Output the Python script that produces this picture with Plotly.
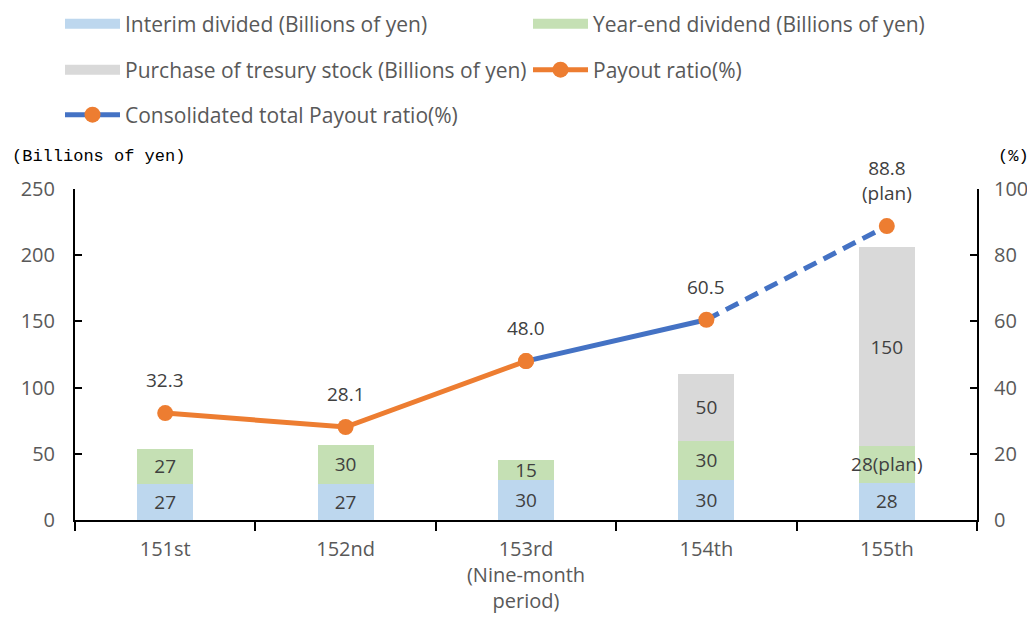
import plotly.graph_objects as go

categories = ["151st", "152nd", "153rd<br>(Nine-month<br>period)", "154th", "155th"]
interim = [27, 27, 30, 30, 28]
interim_text = ["27", "27", "30", "30", "28"]
year_end = [27, 30, 15, 30, 28]
year_end_text = ["27", "30", "15", "30", "28(plan)"]
treasury = [0, 0, 0, 50, 150]
treasury_text = ["", "", "", "50", "150"]

payout_cats = categories[:3]
payout = [32.3, 28.1, 48.0]
consol_cats = categories[2:4]
consol = [48.0, 60.5]
consol_plan_cats = categories[3:5]
consol_plan = [60.5, 88.8]

label_cats = categories
label_vals = [32.3, 28.1, 48.0, 60.5, 88.8]
label_text = ["32.3", "28.1", "48.0", "60.5", "88.8<br>(plan)"]

GRAY = "#595959"
LBL = "#404040"
FONT = "Open Sans, Liberation Sans, Arial, sans-serif"
C_INT, C_YE, C_TR = "#BDD7EE", "#C5E0B4", "#D9D9D9"

W, H = 1035, 621
OFF = 8  # page body margin
# target plot area in screen pixels: x 75..977, y 189..520
L, T = 75 - OFF, 189 - OFF
R, B = W - (977 - OFF), H - (520 - OFF)
pw, ph = W - L - R, H - T - B

fig = go.Figure()
bar_specs = [
    (interim, interim_text, "Interim divided (Billions of yen)", C_INT, "legend"),
    (year_end, year_end_text, "Year-end dividend (Billions of yen)", C_YE, "legend2"),
    (treasury, treasury_text, "Purchase of tresury stock (Billions of yen)", C_TR, "legend3"),
]
for vals, txt, name, col, lg in bar_specs:
    fig.add_trace(go.Bar(x=categories, y=vals, name=name, legendgroup=name, showlegend=False,
                         marker=dict(color=col, line=dict(width=0)),
                         text=txt, textposition="inside", insidetextanchor="middle", textangle=0,
                         textfont=dict(size=19, color=LBL, family=FONT)))
    fig.add_trace(go.Scatter(x=[None], y=[None], name=name, legendgroup=name, mode="lines",
                             line=dict(color=col, width=17), legend=lg))

fig.add_trace(go.Scatter(x=payout_cats, y=payout, name="Payout ratio(%)", yaxis="y2",
                         mode="lines+markers", line=dict(color="#ED7D31", width=5),
                         marker=dict(color="#ED7D31", size=16), legend="legend4"))
fig.add_trace(go.Scatter(x=consol_plan_cats, y=consol_plan, name="Consolidated total Payout ratio(%)",
                         yaxis="y2", mode="lines", showlegend=False,
                         line=dict(color="#4472C4", width=5, dash="14px,8px")))
fig.add_trace(go.Scatter(x=consol_cats, y=consol, name="Consolidated total Payout ratio(%)", yaxis="y2",
                         mode="lines+markers", line=dict(color="#4472C4", width=5),
                         marker=dict(color="#ED7D31", size=16), legend="legend5"))
fig.add_trace(go.Scatter(x=consol_plan_cats[1:], y=consol_plan[1:], yaxis="y2", mode="markers",
                         showlegend=False, marker=dict(color="#ED7D31", size=16)))

annotations = []
for c, v, t in zip(label_cats, label_vals, label_text):
    annotations.append(dict(x=c, y=v, xref="x", yref="y2", text=t, showarrow=False,
                            yanchor="bottom", yshift=18,
                            font=dict(size=19, color=LBL, family=FONT)))


def px_x(sx):
    return (sx - OFF - L) / pw


def px_y(sy):
    return (H - B - (sy - OFF)) / ph


annotations.append(dict(x=px_x(10), y=px_y(157), xref="paper", yref="paper",
                        text="(Billions of yen)", showarrow=False, xanchor="left", yanchor="middle",
                        font=dict(size=17, color="#000000", family="Liberation Mono, monospace")))
annotations.append(dict(x=px_x(1031), y=px_y(157), xref="paper", yref="paper",
                        text="(%)", showarrow=False, xanchor="right", yanchor="middle",
                        font=dict(size=17, color="#000000", family="Liberation Mono, monospace")))


def leg(sx, sy):
    return dict(x=(sx - OFF) / W, y=1 - (sy - OFF) / H, xref="container", yref="container",
                xanchor="left", yanchor="middle", orientation="h",
                font=dict(size=21, color=GRAY, family=FONT), bgcolor="rgba(0,0,0,0)",
                itemwidth=55)


fig.update_layout(
    width=W, height=H,
    margin=dict(l=L, r=R, t=T, b=B, autoexpand=False),
    paper_bgcolor="white", plot_bgcolor="white",
    barmode="stack", bargap=0.69,
    font=dict(family=FONT, color=GRAY, size=20),
    showlegend=True,
    legend=leg(60, 24), legend2=leg(528, 24), legend3=leg(60, 70),
    legend4=leg(528, 70), legend5=leg(60, 115),
    xaxis=dict(type="category", showline=True, linecolor="black", linewidth=2, automargin=False,
               ticks="outside", tickson="boundaries", ticklen=9, tickwidth=2, tickcolor="black",
               tickfont=dict(size=20, color=GRAY), showgrid=False, ticklabelstandoff=10),
    yaxis=dict(range=[0, 250], tickvals=[0, 50, 100, 150, 200, 250], showline=True, automargin=False,
               linecolor="black", linewidth=2, ticks="inside", ticklen=7, tickwidth=2,
               tickcolor="black", showgrid=False, zeroline=False,
               tickfont=dict(size=20, color=GRAY), ticklabelstandoff=14),
    yaxis2=dict(range=[0, 100], tickvals=[0, 20, 40, 60, 80, 100], overlaying="y", side="right",
                showline=True, linecolor="black", linewidth=2, ticks="inside", ticklen=7,
                automargin=False, tickwidth=2, tickcolor="black", showgrid=False, zeroline=False,
                tickfont=dict(size=20, color=GRAY), ticklabelstandoff=11),
    annotations=annotations,
)
fig.update_traces(cliponaxis=False, selector=dict(type="scatter"))
fig.update_traces(constraintext="none", selector=dict(type="bar"))

fig.write_html("out.html")
